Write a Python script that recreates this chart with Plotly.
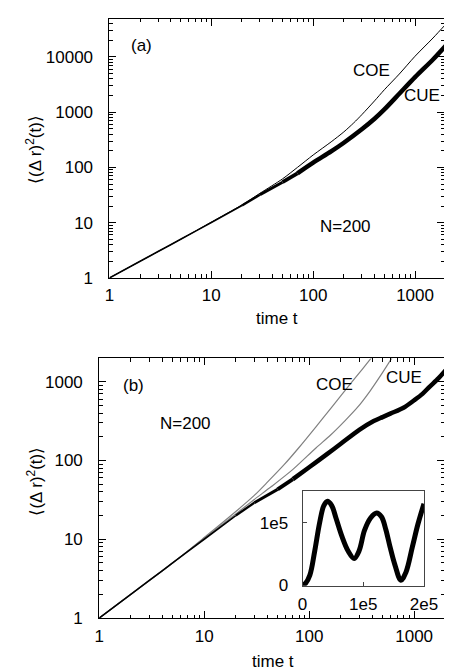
import plotly.graph_objects as go

W, H = 452, 670
FONT = "Liberation Sans, Arial, sans-serif"
FS = 17

# ---------------- data: panel (a) ----------------
t_a = [1, 2, 3, 5, 10, 20, 30, 50, 70, 100, 150, 200, 250, 300, 400, 500, 700, 1000, 1500, 2000]
coe_a = [1, 2, 3, 5, 10.2, 21, 34, 62, 100, 168, 290, 440, 640, 900, 1600, 2550, 4900, 10300, 22000, 39000]
t_a_cue = [1, 2, 3, 5, 10, 20, 30, 50, 70, 100, 150, 200, 300, 400, 500, 700, 1000, 1500, 2000]
cue_a = [1, 2, 3, 5, 10.1, 20.5, 32, 54, 78, 122, 195, 280, 490, 760, 1120, 2150, 4300, 9000, 16000]

# ---------------- data: panel (b) ----------------
t_b_coe = [1, 2, 5, 10, 20, 30, 40, 58, 80, 116, 160, 233, 320, 438]
coe_b = [1, 2, 5, 10.5, 22.5, 36, 53, 89, 146, 267, 455, 849, 1436, 2420]
t_b_cue = [1, 2, 5, 10, 20, 30, 44, 70, 116, 160, 220, 288, 380, 480, 560, 621, 700]
cue_b = [1, 2, 5, 10.3, 21, 32, 47, 77, 144, 210, 320, 470, 760, 1200, 1650, 2050, 2700]
t_b_dat = [1, 2, 3, 5, 10, 20, 30, 50, 70, 100, 150, 200, 300, 400, 500, 600, 800, 1000, 1200, 1400, 1700, 2000]
dat_b = [1, 2, 3, 5, 10, 20, 29, 43, 58, 82, 122, 163, 245, 310, 355, 395, 470, 580, 700, 860, 1100, 1400]

# ---------------- data: inset ----------------
ins_x = [0, 5e3, 1.2e4, 2e4, 2.8e4, 3.5e4, 4.1e4, 4.8e4, 5.5e4, 6.5e4, 7.5e4, 8.5e4, 9.3e4,
         1.02e5, 1.12e5, 1.22e5, 1.3e5, 1.37e5, 1.44e5, 1.52e5, 1.62e5, 1.7e5, 1.81e5, 1.9e5, 2e5]
ins_y = [0, 3e3, 1.6e4, 5.5e4, 1.0e5, 1.28e5, 1.35e5, 1.28e5, 1.08e5, 7.8e4, 5.5e4, 4.3e4, 5.5e4,
         8.8e4, 1.08e5, 1.16e5, 1.1e5, 9.0e4, 6.2e4, 3.3e4, 8e3, 2.0e4, 6.2e4, 9.8e4, 1.31e5]

SM = 0.8
WIDTHS = [(1, 20, 1.6), (20, 30, 2.3), (30, 50, 3.0), (50, 70, 3.8), (70, 1e9, 4.5)]


def seg(t, v, t0, t1):
    pts = [(a, b) for a, b in zip(t, v) if t0 <= a <= t1]
    return [p[0] for p in pts], [p[1] for p in pts]


fig = go.Figure()


def line(x, y, xa, ya, color, width, smooth=SM):
    fig.add_trace(go.Scatter(x=x, y=y, mode="lines",
                             line=dict(color=color, width=width, shape="spline", smoothing=smooth),
                             xaxis=xa, yaxis=ya, showlegend=False, hoverinfo="skip"))


# panel (a)
line(t_a, coe_a, "x", "y", "black", 1)
for (t0, t1, w) in WIDTHS:
    xs, ys = seg(t_a_cue, cue_a, t0, t1)
    line(xs, ys, "x", "y", "black", w)

# panel (b)
line(t_b_coe, coe_b, "x2", "y2", "#808080", 1.2)
line(t_b_cue, cue_b, "x2", "y2", "#808080", 1.2)
for (t0, t1, w) in WIDTHS:
    xs, ys = seg(t_b_dat, dat_b, t0, t1)
    line(xs, ys, "x2", "y2", "black", w)

# inset
line(ins_x, ins_y, "x3", "y3", "black", 5, smooth=1.0)


def px(x):
    return x / W


def py(y):
    return 1 - y / H


logax = dict(type="log", showgrid=False, zeroline=False, showline=True, linecolor="black", linewidth=1,
             mirror="allticks", ticks="inside", ticklen=7, tickcolor="black", dtick=1, tickformat="d",
             minor=dict(ticks="inside", ticklen=3.5, tickcolor="black", showgrid=False),
             tickfont=dict(family=FONT, size=FS, color="black"))

fig.update_layout(
    width=W, height=H, margin=dict(l=0, r=0, t=0, b=0),
    paper_bgcolor="white", plot_bgcolor="white",
    font=dict(family=FONT, size=FS, color="black"),
    xaxis=dict(logax, domain=[px(100.7), px(450)], range=[0, 3.285], anchor="y", ticklabelstandoff=2),
    yaxis=dict(logax, domain=[py(274), py(10.7)], range=[0, 4.695], anchor="x", ticklabelstandoff=12),
    xaxis2=dict(logax, domain=[px(90), px(450)], range=[0, 3.285], anchor="y2", ticklabelstandoff=3),
    yaxis2=dict(logax, domain=[py(619.3), py(355.7)], range=[0, 3.295], anchor="x2", ticklabelstandoff=12),
    xaxis3=dict(domain=[px(302.3), px(429)], range=[0, 2e5], anchor="y3", showgrid=False, zeroline=False,
                showline=True, linecolor="#444", linewidth=1, mirror=True, ticks="inside", ticklen=4,
                tickcolor="#444", tickvals=[0, 1e5, 2e5], ticktext=["0", "1e5", "2e5"], ticklabelstandoff=3,
                tickfont=dict(family=FONT, size=FS, color="black")),
    yaxis3=dict(domain=[py(586.5), py(490)], range=[-1000, 1.52e5], anchor="x3", showgrid=False, zeroline=False,
                showline=True, linecolor="#444", linewidth=1, mirror=True, ticks="inside", ticklen=4,
                tickcolor="#444", tickvals=[0, 1e5], ticktext=["0", "1e5"], ticklabelstandoff=10,
                tickfont=dict(family=FONT, size=FS, color="black")),
)

ytitle = "\u27e8(\u0394 r)<sup>2</sup>(t)\u27e9"
labels = [
    ("(a)", 134, 38.3, 0),
    ("COE", 374.7, 63.3, 0),
    ("CUE", 427, 89.3, 0),
    ("N=200", 346.7, 221.7, 0),
    ("time t", 276, 315, 0),
    (ytitle, 21.7, 143.3, -90),
    ("(b)", 126, 383.3, 0),
    ("COE", 336, 382, 0),
    ("CUE", 408, 375, 0),
    ("N=200", 180, 421.7, 0),
    ("time t", 271.7, 663, 0),
    (ytitle, 22.7, 480, -90),
]
for txt, x, y, ang in labels:
    fig.add_annotation(text=txt, x=px(x), y=py(y), xref="paper", yref="paper", showarrow=False,
                       xanchor="center", yanchor="middle", textangle=ang,
                       font=dict(family=FONT, size=FS, color="black"))

fig.write_html("out.html")
